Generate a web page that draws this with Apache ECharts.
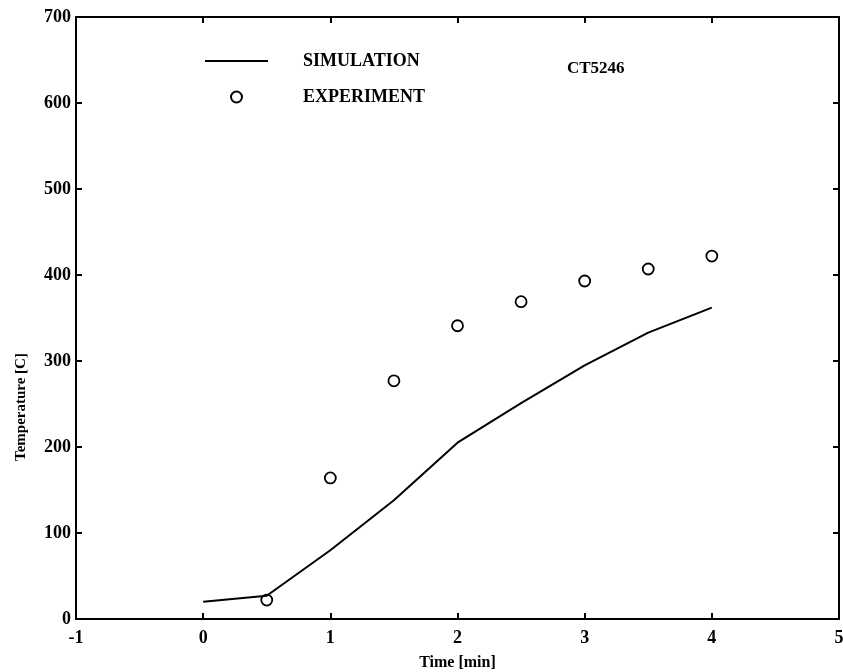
<!DOCTYPE html>
<html>
<head>
<meta charset="utf-8">
<script src="https://cdn.jsdelivr.net/npm/echarts@6/dist/echarts.min.js"></script>
<style>html,body{margin:0;padding:0;background:#fff}#c{width:843px;height:672px}</style>
</head>
<body>
<div id="c"></div>
<script>
const simTime = [0, 0.5, 1, 1.5, 2, 2.5, 3, 3.5, 4];
const simTemp = [20, 27, 80, 138, 205, 251, 295, 333, 362];
const expTime = [0.5, 1, 1.5, 2, 2.5, 3, 3.5, 4];
const expTemp = [22, 164, 277, 341, 369, 393, 407, 422];
const xTicks = [-1, 0, 1, 2, 3, 4, 5];
const yTicks = [0, 100, 200, 300, 400, 500, 600, 700];

const FONT = '"Liberation Serif", "Times New Roman", serif';
const chart = echarts.init(document.getElementById('c'));
function axisCommon() {
  return {
    axisLine: {show: true, onZero: false, lineStyle: {color: '#000', width: 2}},
    axisTick: {show: true, inside: true, length: 6, lineStyle: {color: '#000', width: 2}},
    splitLine: {show: false}
  };
}
chart.setOption({
  animation: false,
  backgroundColor: '#fff',
  grid: {left: 76, right: 4, top: 17, bottom: 53, outerBoundsMode: 'none', containLabel: false},
  legend: {
    orient: 'vertical', left: 200, top: 47,
    itemWidth: 63, itemHeight: 11, itemGap: 18, symbolKeepAspect: true,
    data: [
      {name: 'SIMULATION', icon: 'path://M0,0 L63,0 L63,2 L0,2 Z'},
      {name: 'EXPERIMENT'}
    ],
    textStyle: {fontFamily: FONT, fontWeight: 'bold', fontSize: 18, color: '#000', padding: [0, 0, 0, 30], lineHeight: 11}
  },
  xAxis: [
    Object.assign({
      type: 'value', min: xTicks[0], max: xTicks[xTicks.length - 1], interval: 1,
      axisLabel: {color: '#000', fontFamily: FONT, fontWeight: 'bold', fontSize: 18, margin: 10},
      name: 'Time [min]', nameLocation: 'middle', nameGap: 36,
      nameTextStyle: {color: '#000', fontFamily: FONT, fontWeight: 'bold', fontSize: 16}
    }, axisCommon()),
    Object.assign({
      type: 'value', position: 'top', min: xTicks[0], max: xTicks[xTicks.length - 1], interval: 1,
      axisLabel: {show: false}
    }, axisCommon())
  ],
  yAxis: [
    Object.assign({
      type: 'value', min: yTicks[0], max: yTicks[yTicks.length - 1], interval: 100,
      axisLabel: {color: '#000', fontFamily: FONT, fontWeight: 'bold', fontSize: 18, margin: 5}
    }, axisCommon()),
    Object.assign({
      type: 'value', position: 'right', min: yTicks[0], max: yTicks[yTicks.length - 1], interval: 100,
      axisLabel: {show: false}
    }, axisCommon())
  ],
  graphic: [
    {type: 'text', left: 567, top: 60, style: {text: 'CT5246', font: 'bold 17px ' + FONT, fill: '#000'}},
    {type: 'text', x: 21, y: 407, rotation: Math.PI / 2,
     style: {text: 'Temperature [C]', font: 'bold 15px ' + FONT, fill: '#000', align: 'center', verticalAlign: 'middle'}}
  ],
  series: [
    {
      name: 'SIMULATION', type: 'line', symbol: 'none',
      data: simTime.map((t, i) => [t, simTemp[i]]),
      lineStyle: {color: '#000', width: 2}, itemStyle: {color: '#000'}
    },
    {
      name: 'EXPERIMENT', type: 'scatter', symbol: 'circle', symbolSize: 11,
      data: expTime.map((t, i) => [t, expTemp[i]]),
      itemStyle: {color: '#fff', borderColor: '#000', borderWidth: 1.8, opacity: 1}
    }
  ]
});
</script>
</body>
</html>
